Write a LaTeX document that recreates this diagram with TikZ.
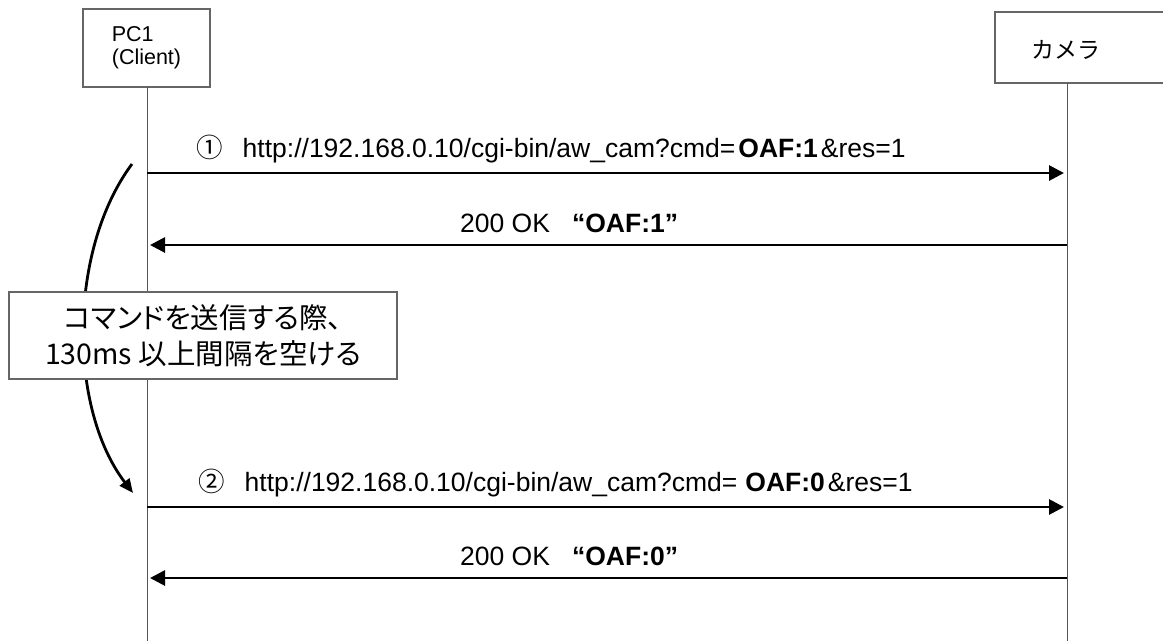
\documentclass[tikz,border=0pt]{standalone}
\usepackage{fontspec}
\setmainfont{Liberation Sans}
\newfontfamily\jp{Noto Sans CJK JP}
\newfontfamily\jpp[RawFeature=+palt]{Noto Sans CJK JP}
\usetikzlibrary{arrows.meta}
\definecolor{lifegray}{HTML}{555555}
\definecolor{boxgray}{HTML}{666666}
\tikzset{
  actorbox/.style={draw=boxgray, line width=1.2pt, fill=white, inner sep=0pt},
  lifeline/.style={draw=lifegray, line width=1pt},
  msg/.style={line width=2.8pt, -{Triangle[length=15pt,width=15pt]}, shorten >=3pt},
  lbl/.style={inner sep=0pt, anchor=base west, font=\fontsize{26.5}{30}\selectfont},
  notebox/.style={draw=boxgray, line width=1.2pt, fill=white, minimum width=388pt, minimum height=87pt, align=center, inner sep=0pt, font=\fontsize{28.5}{36}\selectfont\jpp},
  waitarrow/.style={line width=2.8pt, -{Triangle[length=14pt,width=12pt]}},
}
\begin{document}
\begin{tikzpicture}[x=1pt,y=-1pt]
\useasboundingbox (0,0) rectangle (1163,641);
% actor boxes
\node[actorbox, minimum width=127pt, minimum height=78pt, align=left, font=\fontsize{21.5}{23}\selectfont] (pc) at (146.5,48) {PC1\\(Client)};
\node[actorbox, minimum width=172pt, minimum height=71pt] (cambox) at (1081,47.5) {};
\node[inner sep=0pt, font=\fontsize{23}{26}\selectfont\jp] (cam) at (1066,50) {カメラ};
% lifelines
\coordinate (pcend) at (147,641);
\coordinate (camend) at (1067,641);
\draw[lifeline] (147,87) -- (pcend);
\draw[lifeline] (1067,83) -- (camend);
% message anchor points
\coordinate (p1) at (147,173);
\coordinate (c1) at (1067,173);
\coordinate (p2) at (147,245);
\coordinate (c2) at (1067,245);
\coordinate (p3) at (147,507);
\coordinate (c3) at (1067,507);
\coordinate (p4) at (147,578);
\coordinate (c4) at (1067,578);
\draw[msg] (p1) -- (c1);
\draw[msg] (c2) -- (p2);
\draw[msg] (p3) -- (c3);
\draw[msg] (c4) -- (p4);
% labels
\node[lbl] (l1) at (196,157) {{\jp ①}\hspace{20pt}http://192.168.0.10/cgi-bin/aw\_cam?cmd=\hspace{3pt}\textbf{OAF:1}\hspace{3pt}\&res=1};
\node[lbl] (l2) at (460,232) {200 OK\hspace{22pt}\textbf{“OAF:1”}};
\node[lbl] (l3) at (198,491) {{\jp ②}\hspace{20pt}http://192.168.0.10/cgi-bin/aw\_cam?cmd=\hspace{8pt}\textbf{OAF:0}\hspace{3pt}\&res=1};
\node[lbl] (l4) at (460,565) {200 OK\hspace{22pt}\textbf{“OAF:0”}};
% waiting arrow
\coordinate (ws) at (132,164);
\coordinate (we) at (133,493);
\draw[waitarrow] (ws) .. controls (68,250) and (68,408) .. (we);
% note
\node[notebox] (note) at (203,335.5) {コマンドを送信する際、\\130ms 以上間隔を空ける};
\end{tikzpicture}
\end{document}
